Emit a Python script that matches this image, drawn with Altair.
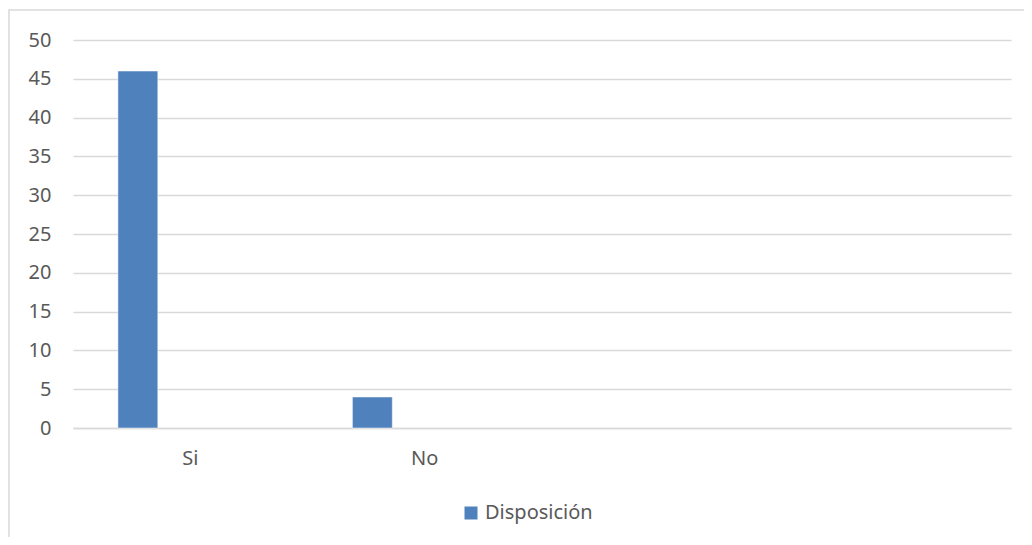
import altair as alt
import pandas as pd

categories = ["Si", "No", "c3", "c4"]
values = [46, 4, None, None]
series_name = "Disposición"
series_slots = ["Disposición", "s2", "s3"]

df = pd.DataFrame({
    "cat": categories[:2],
    "val": values[:2],
    "serie": [series_name, series_name],
})

FONT = "Noto Sans"
TXT = "#595959"
GRID = "#d9d9d9"
FS = 20

bars = alt.Chart(df).mark_bar(color="#4f81bd", stroke="#ffffff", strokeWidth=0.5).encode(
    x=alt.X("cat:N", sort=categories,
            scale=alt.Scale(domain=categories, paddingInner=0, paddingOuter=0),
            axis=alt.Axis(title=None, labelAngle=0, ticks=False, domain=True,
                          domainColor=GRID, domainWidth=1.5,
                          labelExpr="(datum.value=='Si'||datum.value=='No')?datum.value:''",
                          labelFont=FONT, labelFontSize=FS, labelColor=TXT,
                          labelPadding=20, grid=False)),
    xOffset=alt.XOffset("serie:N", scale=alt.Scale(domain=series_slots, paddingInner=0.238, paddingOuter=0.857)),
    y=alt.Y("val:Q", scale=alt.Scale(domain=[0, 50], nice=False),
            axis=alt.Axis(title=None, values=list(range(0, 51, 5)), ticks=False, domain=False,
                          gridColor=GRID, gridWidth=1.5,
                          labelFont=FONT, labelFontSize=FS, labelColor=TXT, labelPadding=22)),
    color=alt.Color("serie:N", scale=alt.Scale(domain=[series_name], range=["#4f81bd"]),
                    legend=alt.Legend(title=None, orient="none", legendX=388, legendY=463,
                                      symbolType="square", symbolSize=169, symbolStrokeWidth=0,
                                      labelFont=FONT, labelFontSize=FS, labelColor=TXT,
                                      labelOffset=4)),
)

border = alt.Chart(pd.DataFrame({"a": [0]})).mark_rect(
    fill=None, stroke="#d9d9d9", strokeWidth=1.5
).encode(x=alt.value(-64), x2=alt.value(980), y=alt.value(-30), y2=alt.value(520))

chart = alt.layer(border, bars).properties(
    width=938, height=388,
    background="#ffffff",
    autosize=alt.AutoSizeParams(type="none"),
    padding={"left": 65, "top": 32, "right": 13, "bottom": 109},
).configure_view(stroke="transparent", strokeWidth=0)

chart.save("out.html", embed_options={"renderer": "svg", "actions": False})
